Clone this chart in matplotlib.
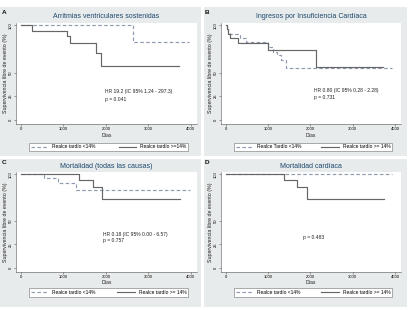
import matplotlib
matplotlib.use("Agg")
import matplotlib.pyplot as plt
from matplotlib.patches import Rectangle

plt.rcParams['font.family'] = ['Liberation Sans', 'DejaVu Sans']

# ---------------- data ----------------
titles = ["Arritmias ventriculares sostenidas", "Ingresos por Insuficiencia Cardíaca",
          "Mortalidad (todas las causas)", "Mortalidad cardíaca"]
letters = ["A", "B", "C", "D"]

a_low_t = [0, 2630, 3960]
a_low_s = [100, 82.7, 82.7]
a_high_t = [0, 272, 1080, 1165, 1768, 1892, 3723]
a_high_s = [100, 94.4, 88.3, 81.6, 71.0, 56.8, 56.8]

b_low_t = [0, 30, 60, 100, 336, 469, 1000, 1118, 1220, 1300, 1431, 3935]
b_low_s = [100, 96, 93, 91.2, 86.6, 82.3, 77.0, 71.7, 68.2, 63.6, 55.1, 55.1]
b_high_t = [0, 20, 50, 100, 297, 1000, 2135, 3720]
b_high_s = [100, 96, 91, 86.6, 81.3, 74.2, 55.8, 55.8]

c_low_t = [0, 555, 883, 1298, 3974]
c_low_s = [100, 96.4, 90.3, 83.2, 83.2]
c_high_t = [0, 1376, 1704, 1916, 3740]
c_high_s = [100, 93.6, 86.4, 74.0, 74.0]

d_low_t = [0, 3934]
d_low_s = [100, 100]
d_high_t = [0, 1376, 1681, 1916, 3740]
d_high_s = [100, 93.6, 86.4, 74.0, 74.0]

annot_lines = [["HR 19.2 (IC 95% 1.24 - 297.3)", "p = 0.041"],
               ["HR 0.80 (IC 95% 0.28 - 2.28)", "p = 0.731"],
               ["HR 0.18 (IC 95% 0.00 - 6.57)", "p = 0.757"],
               ["p = 0.483"]]
annot_x = [1980, 2096, 1925, 1838]
annot_y = [[30, 21.5], [31, 23.3], [35.7, 29.3], [32.8]]

legend_labels = [["Realce tardío <14%", "Realce tardío >=14%"],
                 ["Realce Tardío <14%", "Realce tardío >= 14%"],
                 ["Realce tardío <14%", "Realce tardío >= 14%"],
                 ["Realce tardío <14%", "Realce tardío >= 14%"]]

x_ticks = [0, 1000, 2000, 3000, 4000]
y_ticks = [0, 25, 50, 100]
x_label = "Días"
y_label = "Supervivencia libre de evento (%)"

# ---------------- layout ----------------
W, H = 411, 310
BG = '#e8ebeb'
NAVY = '#1a476f'
C_SOLID = '#666666'
C_DASH = '#8e9aae'

fig = plt.figure(figsize=(W / 100, H / 100), dpi=100)
fig.patch.set_facecolor('white')


def fbox(x0, y0, x1, y1):
    return [x0 / W, 1 - y1 / H, (x1 - x0) / W, (y1 - y0) / H]


cols = [dict(gx=(0, 201), px=(16, 197), lx=(29, 188), letx=2),
        dict(gx=(204, 407), px=(221, 401), lx=(234, 392), letx=205)]
rows = [dict(gy=(7, 156), py=(23, 124), ly=(142.5, 151), ty=17, lety=13),
        dict(gy=(159, 307), py=(172, 272), ly=(288, 297), ty=167, lety=163)]

series = [(a_low_t, a_low_s, a_high_t, a_high_s),
          (b_low_t, b_low_s, b_high_t, b_high_s),
          (c_low_t, c_low_s, c_high_t, c_high_s),
          (d_low_t, d_low_s, d_high_t, d_high_s)]

for i in range(4):
    c = cols[i % 2]
    r = rows[i // 2]
    gx0, gx1 = c['gx']
    gy0, gy1 = r['gy']
    fig.add_artist(Rectangle((gx0 / W, 1 - gy1 / H), (gx1 - gx0) / W, (gy1 - gy0) / H,
                             transform=fig.transFigure, facecolor=BG, edgecolor='none', zorder=0))
    px0, px1 = c['px']
    py0, py1 = r['py']
    ax = fig.add_axes(fbox(px0, py0, px1, py1))
    ax.set_facecolor('white')
    lt, ls, ht, hs = series[i]
    l1, = ax.step(lt, ls, where='post', color=C_DASH, lw=0.85, linestyle=(0, (3, 2)))
    l2, = ax.step(ht, hs, where='post', color=C_SOLID, lw=0.85)
    ax.set_xlim(-110, 4143)
    ax.set_ylim(-4.6, 102.6)
    ax.set_xticks(x_ticks)
    ax.set_yticks(y_ticks)
    ax.tick_params(axis='both', labelsize=3.0, length=1.5, width=0.4, color='#555555', pad=0.8)
    ax.tick_params(axis='y', labelrotation=90, pad=1.0)
    for lab in ax.get_yticklabels():
        lab.set_va('center')
    for sp in ['top', 'right']:
        ax.spines[sp].set_visible(False)
    for sp in ['left', 'bottom']:
        ax.spines[sp].set_linewidth(0.4)
        ax.spines[sp].set_color('#555555')
    ax.set_xlabel(x_label, fontsize=3.6, color='#222222')
    ax.set_ylabel(y_label, fontsize=3.8, color='#222222')
    ax.xaxis.set_label_coords(0.5, -0.085)
    ax.yaxis.set_label_coords(-0.045, 0.5)
    for txt, yy in zip(annot_lines[i], annot_y[i]):
        ax.text(annot_x[i], yy, txt, fontsize=3.6, color='#222222', ha='left', va='center')
    fig.text(((px0 + px1) / 2) / W, 1 - r['ty'] / H, titles[i], fontsize=5.0, color=NAVY,
             ha='center', va='center')
    fig.text(c['letx'] / W, 1 - r['lety'] / H, letters[i], fontsize=4.6, fontweight='bold',
             ha='left', va='center', color='#111111')
    lx0, lx1 = c['lx']
    ly0, ly1 = r['ly']
    leg = fig.legend([l1, l2], legend_labels[i], loc='center',
                     bbox_to_anchor=fbox(lx0, ly0, lx1, ly1), bbox_transform=fig.transFigure,
                     mode='expand', ncol=2, fontsize=3.5, frameon=True, fancybox=False,
                     edgecolor='#8a8a8a', borderpad=0.35, handlelength=3.6, handletextpad=0.8,
                     borderaxespad=0, framealpha=1)
    leg.get_frame().set_linewidth(0.5)

fig.savefig('out.png', dpi=100, facecolor='white')
